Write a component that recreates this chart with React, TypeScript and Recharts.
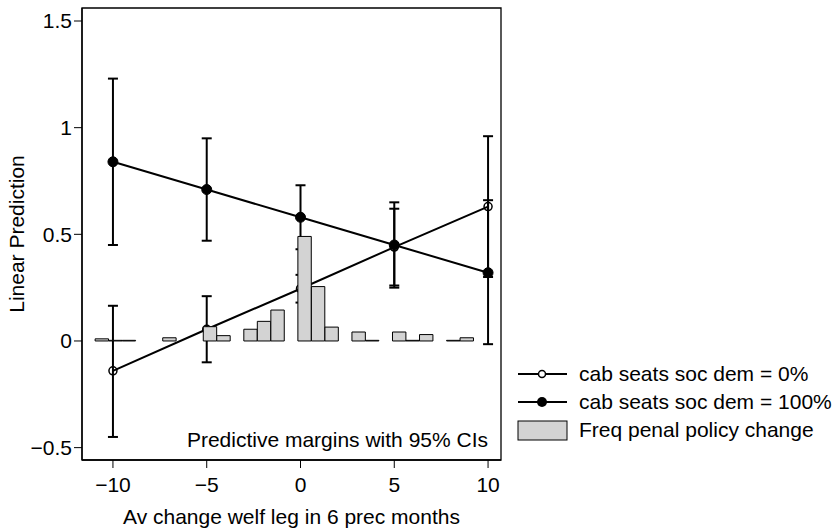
import React from 'react';
import {
  ComposedChart,
  Line,
  Bar,
  XAxis,
  YAxis,
  ErrorBar,
  ReferenceArea,
} from 'recharts';

// predictive margins at these x values
const xPoints = [-10, -5, 0, 5, 10];

// cab seats soc dem = 0%
const pred0 = [-0.14, 0.055, 0.245, 0.44, 0.63];
const lo0 = [-0.45, -0.1, 0.18, 0.26, 0.3];
const hi0 = [0.165, 0.21, 0.31, 0.62, 0.96];

// cab seats soc dem = 100%
const pred100 = [0.84, 0.71, 0.58, 0.45, 0.32];
const lo100 = [0.45, 0.47, 0.43, 0.25, -0.015];
const hi100 = [1.23, 0.95, 0.73, 0.65, 0.66];

// histogram of penal policy change frequency (bin centres + heights)
const binCenters = [
  -10.59, -9.869, -9.148, -8.428, -7.707, -6.986, -6.266, -5.545, -4.824, -4.104,
  -3.383, -2.662, -1.942, -1.221, -0.5, 0.22, 0.941, 1.662, 2.382, 3.103,
  3.824, 4.544, 5.265, 5.986, 6.706, 7.427, 8.148, 8.868,
];
const binFreq = [
  0.01, 0.003, 0.003, 0, 0, 0.015, 0, 0, 0.067, 0.025,
  0, 0.055, 0.092, 0.145, 0, 0.49, 0.255, 0.065, 0, 0.042,
  0.003, 0, 0.042, 0.003, 0.03, 0, 0.003, 0.015,
];

const xTicks = [-10, -5, 0, 5, 10];
const yTicks = [-0.5, 0, 0.5, 1, 1.5];

const xDomain = [-11.65, 10.69];
const yDomain = [-0.558, 1.561];

const FONT = '"Liberation Sans", Arial, Helvetica, sans-serif';

const series0 = xPoints.map((x, i) => ({ x, y: pred0[i], err: [pred0[i] - lo0[i], hi0[i] - pred0[i]] }));
const series100 = xPoints.map((x, i) => ({ x, y: pred100[i], err: [pred100[i] - lo100[i], hi100[i] - pred100[i]] }));
const histData = binCenters.map((c, i) => ({ c, freq: binFreq[i] }));

const fmt = (v: number) => (v < 0 ? '\u2212' + Math.abs(v) : String(v));

const LegendBox = () => (
  <svg width={328} height={90} style={{ fontFamily: FONT, fontSize: 21, display: 'block' }}>
    <line x1={8} x2={57} y1={14} y2={14} stroke="#000" strokeWidth={1.8} />
    <circle cx={32} cy={14} r={3.5} fill="#fff" stroke="#000" strokeWidth={1.5} />
    <text x={69} y={21} fill="#000">cab seats soc dem = 0%</text>
    <line x1={8} x2={57} y1={42} y2={42} stroke="#000" strokeWidth={1.8} />
    <circle cx={32} cy={42} r={5} fill="#000" />
    <text x={69} y={49} fill="#000">cab seats soc dem = 100%</text>
    <rect x={8} y={61} width={49} height={19} fill="#d3d3d3" stroke="#000" strokeWidth={1} />
    <text x={69} y={77} fill="#000">Freq penal policy change</text>
  </svg>
);

export default function App() {
  return (
    <div style={{ position: 'absolute', left: 0, top: 0, width: 838, height: 528, background: '#fff' }}>
      <ComposedChart
        width={838}
        height={528}
        data={histData}
        margin={{ top: 8, right: 337, bottom: 0, left: 0 }}
        style={{ fontFamily: FONT }}
      >
        <XAxis
          dataKey="x"
          type="number"
          domain={xDomain}
          allowDataOverflow
          ticks={xTicks}
          tickFormatter={fmt}
          height={68}
          tickSize={8}
          tickMargin={9}
          stroke="#000"
          axisLine={{ stroke: '#000', strokeWidth: 1.3 }}
          tick={{ fill: '#000', fontSize: 21 }}
          label={{ value: 'Av change welf leg in 6 prec months', position: 'insideBottom', offset: 4, fill: '#000', fontSize: 21 }}
        />
        <XAxis xAxisId="hist" dataKey="c" type="number" domain={xDomain} allowDataOverflow hide />
        <YAxis
          type="number"
          domain={yDomain}
          allowDataOverflow
          ticks={yTicks}
          tickFormatter={fmt}
          width={82}
          tickSize={8}
          tickMargin={2}
          stroke="#000"
          axisLine={{ stroke: '#000', strokeWidth: 1.3 }}
          tick={{ fill: '#000', fontSize: 21 }}
          label={{ value: 'Linear Prediction', angle: -90, position: 'insideLeft', offset: 17, fill: '#000', fontSize: 21, style: { textAnchor: 'middle' } }}
        />
        <YAxis yAxisId="hist" type="number" domain={yDomain} allowDataOverflow hide />
        <ReferenceArea
          x1={xDomain[0]}
          x2={xDomain[1]}
          y1={yDomain[0]}
          y2={yDomain[1]}
          fill="none"
          fillOpacity={0}
          stroke="#000"
          strokeWidth={1.3}
          ifOverflow="visible"
        />
        <Line
          data={series0}
          dataKey="y"
          stroke="#000"
          strokeWidth={2}
          dot={{ r: 4, fill: 'none', stroke: '#000', strokeWidth: 1.5 }}
          activeDot={false}
          isAnimationActive={false}
        >
          <ErrorBar dataKey="err" direction="y" width={5} stroke="#000" strokeWidth={2} />
        </Line>
        <Line
          data={series100}
          dataKey="y"
          stroke="#000"
          strokeWidth={2}
          dot={{ r: 5, fill: '#000', stroke: '#000', strokeWidth: 1 }}
          activeDot={false}
          isAnimationActive={false}
        >
          <ErrorBar dataKey="err" direction="y" width={5} stroke="#000" strokeWidth={2} />
        </Line>
        <Bar
          xAxisId="hist"
          yAxisId="hist"
          dataKey="freq"
          barSize={13.4}
          fill="#d3d3d3"
          stroke="#000"
          strokeWidth={1}
          zIndex={1000}
          isAnimationActive={false}
        />
      </ComposedChart>
      <div style={{ position: 'absolute', left: 510, top: 360 }}>
        <LegendBox />
      </div>
      <div
        style={{
          position: 'absolute',
          right: 350,
          top: 428,
          fontFamily: FONT,
          fontSize: 21,
          lineHeight: '24px',
          color: '#000',
          whiteSpace: 'nowrap',
        }}
      >
        Predictive margins with 95% CIs
      </div>
    </div>
  );
}
